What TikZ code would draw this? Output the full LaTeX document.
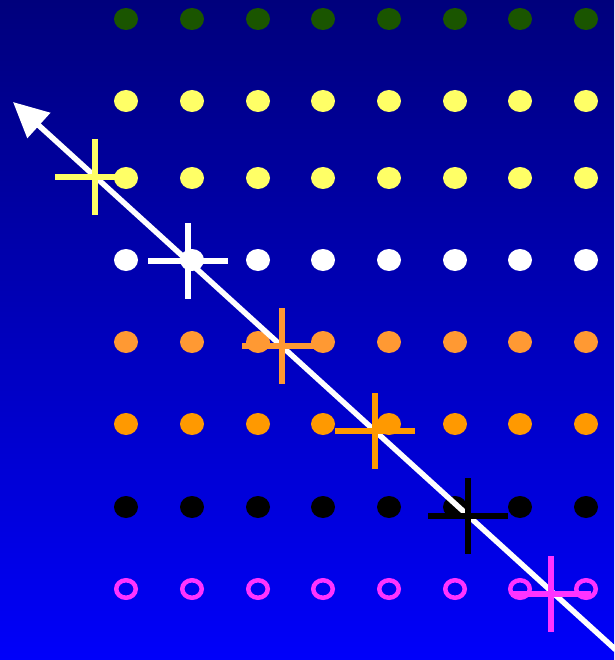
\documentclass[tikz,border=0pt]{standalone}
\usetikzlibrary{arrows.meta,shapes.geometric}
\definecolor{skytop}{RGB}{0,0,124}
\definecolor{skybot}{RGB}{0,0,250}
\definecolor{dotgreen}{RGB}{26,85,0}
\definecolor{dotyellow}{RGB}{255,255,102}
\definecolor{dotpeach}{RGB}{255,153,51}
\definecolor{dotorange}{RGB}{255,153,0}
\definecolor{dotpink}{RGB}{255,51,255}
\tikzset{
  dot/.style={ellipse,inner sep=0pt,minimum width=24pt,minimum height=22pt},
  ring/.style={ellipse,inner sep=0pt,minimum width=19.5pt,minimum height=17.5pt,draw=dotpink,line width=4.5pt},
  mark cross/.style={line width=5.5pt}
}
\begin{document}
\begin{tikzpicture}[x=1pt,y=-1pt]
\useasboundingbox (0,0) rectangle (614,660);
\shade[top color=skytop,bottom color=skybot] (0,0) rectangle (614,660);
% grid of dots, one colour per row
\foreach \y/\c [count=\r] in {19/dotgreen,101/dotyellow,178/dotyellow,260/white,342/dotpeach,424/dotorange,507/black}
  \foreach \x [count=\k] in {126,192,258,323,389,455,520,586}
    \node[dot,fill=\c] (d-\r-\k) at (\x,\y) {};
\foreach \x [count=\k] in {126,192,258,323,389,455,520,586}
  \node[ring] (d-8-\k) at (\x,589) {};
% diagonal arrow
\coordinate (tail) at (616,650);
\coordinate (tip) at (13,102);
\draw[white,line width=5.5pt,-{Triangle[length=35pt,width=33pt]}] (tail) -- (tip);
% crosses along the diagonal
\foreach \cx/\cy/\cc [count=\i] in {95/177/dotyellow,188/261/white,282/346/dotpeach,375/431/dotorange,468/516/black,551/594/dotpink}{
  \coordinate (x-\i) at (\cx,\cy);
  \draw[mark cross,\cc] ([xshift=-40pt]x-\i) -- ([xshift=40pt]x-\i)
    ([yshift=38pt]x-\i) -- ([yshift=-38pt]x-\i);
}
\end{tikzpicture}
\end{document}
